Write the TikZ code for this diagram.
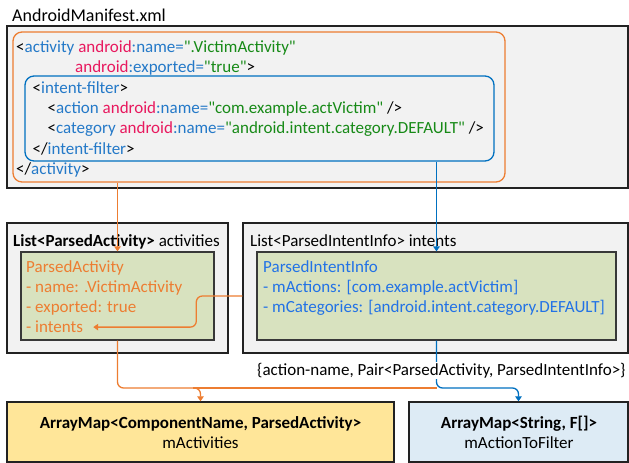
\documentclass[tikz,border=0pt]{standalone}
\usepackage{fontspec}
\setmainfont{Carlito}[Ligatures=TeXOff]
\usetikzlibrary{arrows.meta}
\definecolor{orangec}{HTML}{ED7D31}
\definecolor{bluec}{HTML}{0070C0}
\definecolor{xmlblue}{HTML}{2479C8}
\definecolor{xmlred}{HTML}{E8185E}
\definecolor{xmlgreen}{HTML}{178A17}
\definecolor{infoblue}{HTML}{2272E6}
\definecolor{grayfill}{HTML}{F2F2F2}
\definecolor{greenfill}{HTML}{D8E2BF}
\definecolor{yellowfill}{HTML}{FFE699}
\definecolor{bluefill}{HTML}{DDEBF5}
\definecolor{framec}{HTML}{222222}
\newcommand\xmlB[1]{\textcolor{xmlblue}{#1}}
\newcommand\xmlR[1]{\textcolor{xmlred}{#1}}
\newcommand\xmlG[1]{\textcolor{xmlgreen}{#1}}
\begin{document}
\begin{tikzpicture}[x=1pt,y=-1pt,
  font=\fontsize{17}{20.3}\selectfont,
  frame/.style={draw=framec, line width=1.4pt, fill=grayfill, rectangle, inner sep=0pt},
  greenbox/.style={draw=framec!90, line width=1.2pt, fill=greenfill, rectangle, inner sep=0pt},
  mapbox/.style={draw=framec, line width=1.3pt, rectangle, inner sep=0pt},
  rbox/.style={rectangle, rounded corners=9pt, line width=1.3pt, inner sep=0pt},
  txt/.style={anchor=base west, inner sep=0pt},
  ctxt/.style={anchor=base, inner sep=0pt},
  tip/.style={-{Triangle[length=5pt,width=6.5pt]}},
  oline/.style={draw=orangec, line width=1.3pt},
  bline/.style={draw=bluec, line width=1.3pt}]
\useasboundingbox (0,0) rectangle (629,463);

% title
\node[txt, font=\fontsize{18}{21}\selectfont] (title) at (12,21) {AndroidManifest.xml};

% manifest box
\node[frame, minimum width=621pt, minimum height=162pt] (manifest) at (317.5,107) {};
\node[rbox, draw=orangec, minimum width=492pt, minimum height=150pt] (actbox) at (259,107) {};
\node[rbox, draw=bluec, minimum width=469pt, minimum height=85pt] (ifbox) at (259.5,118.5) {};

\node[txt] (l1) at (16,52.5) {<\xmlB{activity} \xmlR{android}\xmlB{:name=}\xmlG{".VictimActivity"}};
\node[txt] (l2) at (75,72.8) {\xmlR{android}\xmlB{:exported=}\xmlG{"true"}>};
\node[txt] (l3) at (32.5,93.1) {<\xmlB{intent-filter}>};
\node[txt] (l4) at (47.5,113.4) {<\xmlB{action} \xmlR{android}\xmlB{:name=}\xmlG{"com.example.actVictim"} />};
\node[txt] (l5) at (47.5,133.7) {<\xmlB{category} \xmlR{android}\xmlB{:name=}\xmlG{"android.intent.category.DEFAULT"} />};
\node[txt] (l6) at (32.5,154) {</\xmlB{intent-filter}>};
\node[txt] (l7) at (16,174.3) {</\xmlB{activity}>};

% middle boxes
\node[frame, minimum width=221pt, minimum height=130pt] (actlist) at (117.5,288) {};
\node[txt] (actlisttitle) at (13,246.5) {\textbf{List<ParsedActivity>} activities};
\node[greenbox, minimum width=193pt, minimum height=88pt] (pa) at (117.5,296) {};
\node[txt, text=orangec] (pa1) at (26,272) {ParsedActivity};
\node[txt, text=orangec] (pa2) at (26,292.3) {- name: .VictimActivity};
\node[txt, text=orangec] (pa3) at (26,312.6) {- exported: true};
\node[txt, text=orangec] (pa4) at (26,332.9) {- intents};

\node[frame, minimum width=385pt, minimum height=130pt] (intlist) at (435.5,288) {};
\node[txt] (intlisttitle) at (250,246.5) {List<ParsedIntentInfo> intents};
\node[greenbox, minimum width=359pt, minimum height=88pt] (pii) at (436.5,296) {};
\node[txt, text=infoblue] (pii1) at (263,272) {ParsedIntentInfo};
\node[txt, text=infoblue] (pii2) at (263,292.3) {- mActions: [com.example.actVictim]};
\node[txt, text=infoblue] (pii3) at (263,312.6) {- mCategories: [android.intent.category.DEFAULT]};

% bottom boxes
\node[mapbox, fill=yellowfill, minimum width=387pt, minimum height=60pt] (mact) at (200.5,432) {};
\node[ctxt, font=\fontsize{17}{20.3}\selectfont\bfseries] (mact1) at (200.5,428) {ArrayMap<ComponentName, ParsedActivity>};
\node[ctxt] (mact2) at (200.5,448) {mActivities};
\node[mapbox, fill=bluefill, minimum width=219pt, minimum height=60pt] (mfil) at (518.5,432) {};
\node[ctxt, font=\fontsize{17}{20.3}\selectfont\bfseries] (mfil1) at (519,428) {ArrayMap<String, F[]>};
\node[ctxt] (mfil2) at (519,448) {mActionToFilter};

\coordinate (bus) at (0,388);

% connectors
\draw[oline, tip] (actbox.south -| pa.north) -- (pa.north);
\draw[bline, tip] (ifbox.south -| pii.north) -- (pii.north);
\draw[oline, tip, rounded corners=6pt] (intlist.west |- pa.center) -- ++(-46,0) |- ([xshift=10pt]pa4.east);
\draw[oline] ([xshift=-8pt]bus -| mact.north) -- (bus -| pii.south);
\draw[oline, tip, rounded corners=6pt] (pa.south) |- (bus -| mact.north) -- (mact.north);
\draw[bline, tip, rounded corners=6pt] (pii.south) |- (bus -| mfil.north) -- (mfil.north);

\node[txt, fill=white, inner sep=1pt] (pairlabel) at (256,375) {\{action-name, Pair<ParsedActivity, ParsedIntentInfo>\}};
\end{tikzpicture}
\end{document}
